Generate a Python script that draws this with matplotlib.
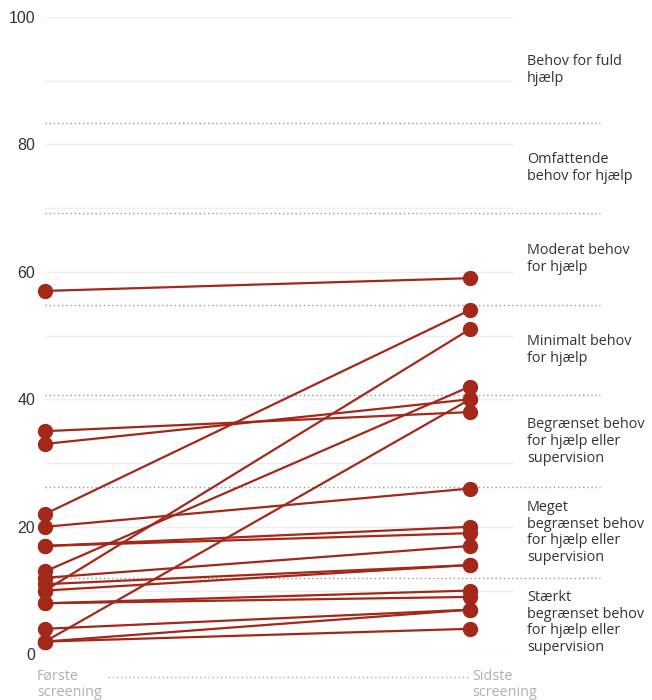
import matplotlib
matplotlib.use("Agg")
import matplotlib.pyplot as plt

# ---- data ----
first_screening = [57, 35, 33, 22, 20, 17, 17, 13, 12, 11, 10, 10, 8, 8, 4, 2, 2, 2]
last_screening = [59, 38, 40, 54, 26, 20, 19, 42, 17, 14, 51, 14, 10, 9, 7, 7, 4, 40]
y_ticks = [0, 20, 40, 60, 80, 100]
thresholds = [83.3, 69.2, 54.8, 40.6, 26.2, 12.0]
category_labels = [
    "Behov for fuld\nhjælp",
    "Omfattende\nbehov for hjælp",
    "Moderat behov\nfor hjælp",
    "Minimalt behov\nfor hjælp",
    "Begrænset behov\nfor hjælp eller\nsupervision",
    "Meget\nbegrænset behov\nfor hjælp eller\nsupervision",
    "Stærkt\nbegrænset behov\nfor hjælp eller\nsupervision",
]
x_labels = ["Første\nscreening", "Sidste\nscreening"]

RED = "#a3281a"
W, H = 652, 700
fig = plt.figure(figsize=(W / 100, H / 100), dpi=100)

left_px, right_px, top_px, bottom_px = 45, 513, 16.8, 654.3
ax = fig.add_axes([left_px / W, 1 - bottom_px / H,
                   (right_px - left_px) / W, (bottom_px - top_px) / H])
x_last = 1.0
xmax = (right_px - left_px) / (470 - left_px)
ax.set_xlim(0, xmax)
ax.set_ylim(0, 100)
for s in ax.spines.values():
    s.set_visible(False)
ax.set_xticks([])
ax.set_yticks(y_ticks)
ax.set_yticklabels([str(v) for v in y_ticks], family="Liberation Sans",
                   fontsize=11.5, color="#333333")
ax.tick_params(axis="y", length=0, pad=7)

# light gridlines every 10
for v in range(0, 101, 10):
    ax.axhline(v, color="#eeeeee", lw=1, zorder=0)

# dotted category thresholds
dot_end = (600 - left_px) / (470 - left_px)
for t in thresholds:
    ax.plot([0, dot_end], [t, t], color="#999999", lw=1,
            linestyle=(0, (1, 2)), clip_on=False, zorder=1)

# slope lines
for a, b in zip(first_screening, last_screening):
    ax.plot([0, x_last], [a, b], color=RED, lw=1.6, zorder=3,
            solid_capstyle="round", clip_on=False)
    ax.plot([0, x_last], [a, b], color=RED, lw=0, marker="o", markersize=10,
            zorder=4, clip_on=False)

# category labels
bounds = [100] + thresholds
label_x = (527 - left_px) / (470 - left_px)
for i, lab in enumerate(category_labels):
    if i < len(thresholds):
        yc = (bounds[i] + bounds[i + 1]) / 2
    else:
        yc = 5.0
    ax.text(label_x, yc, lab, ha="left", va="center", fontsize=10.4,
            family="Open Sans", color="#333333", linespacing=1.15,
            clip_on=False)

# bottom x labels
ax.text(0 - 8 / 425, -2.3, x_labels[0], ha="left", va="top", fontsize=10.4,
        family="Open Sans", color="#b0b0b0", linespacing=1.1, clip_on=False)
ax.text(1 + 2 / 425, -2.3, x_labels[1], ha="left", va="top", fontsize=10.4,
        family="Open Sans", color="#b0b0b0", linespacing=1.1, clip_on=False)
y_dot = -(677 - bottom_px) / 6.375
ax.plot([(108 - left_px) / 425, (469 - left_px) / 425], [y_dot, y_dot],
        color="#aaaaaa", lw=1, linestyle=(0, (1, 2)), clip_on=False)

fig.savefig("out.png", dpi=100)
